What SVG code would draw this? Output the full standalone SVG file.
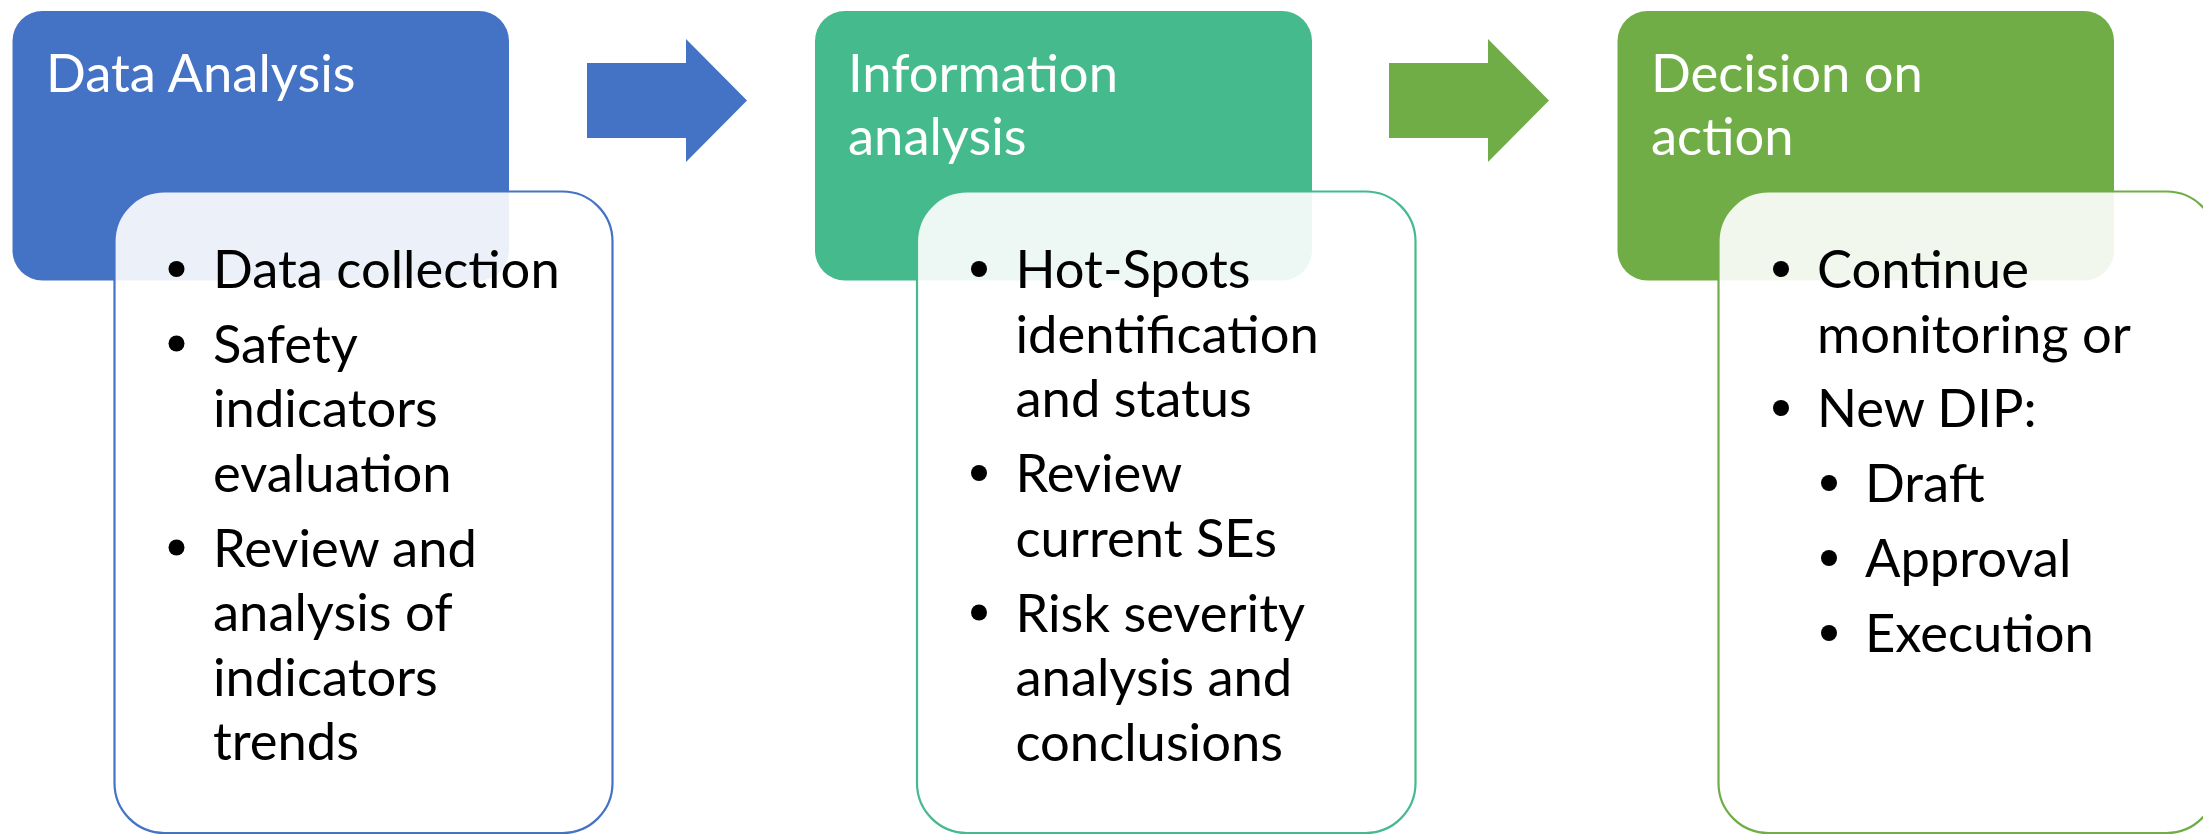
<svg xmlns="http://www.w3.org/2000/svg" width="2203" height="836" viewBox="0 0 2203 836">
<style>
.hdr{stroke:none}
.card{fill:#ffffff;fill-opacity:0.9;stroke-width:2.2}
.title{font-family:Lato,"Open Sans","Liberation Sans",sans-serif;font-size:52.5px;fill:#ffffff}
.body{font-family:Lato,"Open Sans","Liberation Sans",sans-serif;font-size:52.5px;fill:#000000}
.dot{fill:#000000}
</style>
<rect width="2203" height="836" fill="#ffffff"/>
<g id="connectors">
  <polygon id="arrow1" fill="#4472C4" points="587,63 686,63 686,39 747,100.5 686,162 686,138 587,138"/>
  <polygon id="arrow2" fill="#70AD47" points="1389,63 1488,63 1488,39 1549,100.5 1488,162 1488,138 1389,138"/>
</g>
<g id="node-data-analysis">
  <rect class="hdr" x="12.5" y="11" width="496.5" height="269.5" rx="30" fill="#4472C4"/>
  <text class="title" x="46" y="92">Data Analysis</text>
  <rect class="card" x="114.5" y="191.5" width="498" height="641.5" rx="50" stroke="#4472C4"/>
  <g class="body">
    <circle class="dot" cx="176.5" cy="269" r="8"/>
    <text class="body" x="213" y="288">Data collection</text>
    <circle class="dot" cx="176.5" cy="343.5" r="8"/>
    <text class="body" x="213" y="362.5">Safety</text>
    <text class="body" x="213" y="427">indicators</text>
    <text class="body" x="213" y="491.5">evaluation</text>
    <circle class="dot" cx="176.5" cy="547.5" r="8"/>
    <text class="body" x="213" y="566.5">Review and</text>
    <text class="body" x="213" y="631">analysis of</text>
    <text class="body" x="213" y="695.5">indicators</text>
    <text class="body" x="213" y="760">trends</text>
  </g>
</g>
<g id="node-information-analysis">
  <rect class="hdr" x="815" y="11" width="497" height="269.5" rx="30" fill="#45BA8D"/>
  <text class="title" x="848" y="92">Information</text>
  <text class="title" x="848" y="155">analysis</text>
  <rect class="card" x="917" y="191.5" width="498.5" height="641.5" rx="50" stroke="#45BA8D"/>
  <g class="body">
    <circle class="dot" cx="979" cy="269" r="8"/>
    <text class="body" x="1015.5" y="288">Hot-Spots</text>
    <text class="body" x="1015.5" y="352.5">identification</text>
    <text class="body" x="1015.5" y="417">and status</text>
    <circle class="dot" cx="979" cy="473" r="8"/>
    <text class="body" x="1015.5" y="492">Review</text>
    <text class="body" x="1015.5" y="556.5">current SEs</text>
    <circle class="dot" cx="979" cy="612.5" r="8"/>
    <text class="body" x="1015.5" y="631.5">Risk severity</text>
    <text class="body" x="1015.5" y="696">analysis and</text>
    <text class="body" x="1015.5" y="760.5">conclusions</text>
  </g>
</g>
<g id="node-decision-on-action">
  <rect class="hdr" x="1617.5" y="11" width="496.5" height="269.5" rx="30" fill="#70AD47"/>
  <text class="title" x="1651" y="92">Decision on</text>
  <text class="title" x="1651" y="155">action</text>
  <rect class="card" x="1718.5" y="191.5" width="498" height="641.5" rx="50" stroke="#70AD47"/>
  <g class="body">
    <circle class="dot" cx="1781" cy="269" r="8"/>
    <text class="body" x="1817" y="288">Continue</text>
    <text class="body" x="1817" y="352.5">monitoring or</text>
    <circle class="dot" cx="1781" cy="408" r="8"/>
    <text class="body" x="1817" y="427">New DIP:</text>
    <circle class="dot" cx="1829" cy="483" r="8"/>
    <text class="body" x="1865" y="502">Draft</text>
    <circle class="dot" cx="1829" cy="558" r="8"/>
    <text class="body" x="1865" y="577">Approval</text>
    <circle class="dot" cx="1829" cy="633" r="8"/>
    <text class="body" x="1865" y="652">Execution</text>
  </g>
</g>
</svg>
